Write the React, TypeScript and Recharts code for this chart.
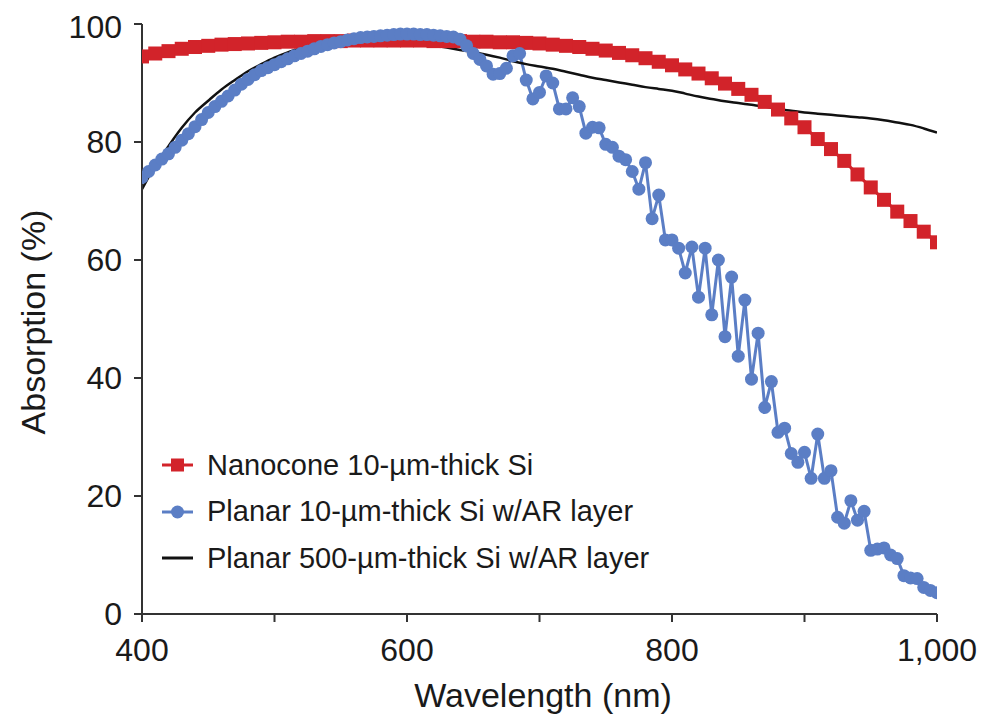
import { FC } from 'react'
import { Label, Legend, Line, LineChart, XAxis, YAxis } from 'recharts'

const FONT = '"Liberation Sans", Arial, Helvetica, sans-serif'
const RED = '#d2232a'
const BLUE = '#5b7ec5'
const BLACK = '#111111'
const AXIS = '#333333'

// wavelength grid of the nanocone and 500-um curves (nm)
const nm10 = [
    400, 410, 420, 430, 440, 450, 460, 470, 480, 490,
    500, 510, 520, 530, 540, 550, 560, 570, 580, 590,
    600, 610, 620, 630, 640, 650, 660, 670, 680, 690,
    700, 710, 720, 730, 740, 750, 760, 770, 780, 790,
    800, 810, 820, 830, 840, 850, 860, 870, 880, 890,
    900, 910, 920, 930, 940, 950, 960, 970, 980, 990,
    1000,
]

// wavelength grid of the planar 10-um curve (nm)
const nm5 = [
    400, 405, 410, 415, 420, 425, 430, 435, 440, 445,
    450, 455, 460, 465, 470, 475, 480, 485, 490, 495,
    500, 505, 510, 515, 520, 525, 530, 535, 540, 545,
    550, 555, 560, 565, 570, 575, 580, 585, 590, 595,
    600, 605, 610, 615, 620, 625, 630, 635, 640, 645,
    650, 655, 660, 665, 670, 675, 680, 685, 690, 695,
    700, 705, 710, 715, 720, 725, 730, 735, 740, 745,
    750, 755, 760, 765, 770, 775, 780, 785, 790, 795,
    800, 805, 810, 815, 820, 825, 830, 835, 840, 845,
    850, 855, 860, 865, 870, 875, 880, 885, 890, 895,
    900, 905, 910, 915, 920, 925, 930, 935, 940, 945,
    950, 955, 960, 965, 970, 975, 980, 985, 990, 995,
    1000,
]

const nanocone = [
    94.5, 95.0, 95.4, 95.8, 96.1, 96.3, 96.5, 96.6, 96.7, 96.8,
    96.9, 97.0, 97.0, 97.1, 97.1, 97.1, 97.2, 97.2, 97.2, 97.2,
    97.2, 97.2, 97.1, 97.1, 97.1, 97.0, 97.0, 96.9, 96.9, 96.8,
    96.7, 96.5, 96.3, 96.1, 95.8, 95.5, 95.1, 94.7, 94.2, 93.6,
    93.0, 92.3, 91.6, 90.8, 89.9, 89.0, 88.0, 86.8, 85.5, 84.0,
    82.5, 80.5, 78.8, 76.8, 74.5, 72.3, 70.2, 68.2, 66.6, 64.8,
    63.0,
]

const planar500 = [
    72.0, 76.0, 79.3, 82.4, 85.0, 87.0, 88.9, 90.5, 92.0, 93.2,
    94.3, 95.2, 95.9, 96.5, 96.9, 97.2, 97.4, 97.5, 97.4, 97.3,
    97.1, 96.8, 96.4, 96.0, 95.6, 95.2, 94.8, 94.3, 93.7, 93.2,
    92.8, 92.4, 91.9, 91.4, 90.9, 90.5, 90.1, 89.7, 89.3, 89.0,
    88.7, 88.2, 87.7, 87.3, 86.9, 86.6, 86.3, 86.0, 85.6, 85.3,
    85.0, 84.8, 84.6, 84.4, 84.2, 84.0, 83.7, 83.3, 82.9, 82.3,
    81.6,
]

const planar10 = [
    74.0, 75.0, 76.1, 77.1, 78.0, 79.1, 80.3, 81.4, 82.6, 83.8,
    85.0, 86.0, 86.9, 87.8, 88.8, 89.8, 90.6, 91.4, 92.1, 92.6,
    93.1, 93.6, 94.1, 94.6, 95.0, 95.4, 95.8, 96.2, 96.5, 96.8,
    97.0, 97.3, 97.5, 97.7, 97.8, 97.9, 98.0, 98.1, 98.2, 98.3,
    98.3, 98.3, 98.2, 98.2, 98.1, 98.0, 97.9, 97.8, 97.4, 96.3,
    95.0, 94.0, 92.9, 91.5, 91.6, 92.5, 94.6, 95.0, 90.5, 87.3,
    88.4, 91.2, 90.0, 85.6, 85.6, 87.5, 86.0, 81.5, 82.5, 82.4,
    79.6, 79.1, 77.6, 77.0, 75.0, 72.0, 76.5, 67.0, 71.0, 63.4,
    63.4, 62.0, 57.8, 62.2, 53.7, 62.0, 50.7, 60.0, 47.0, 57.1,
    43.7, 53.2, 39.8, 47.6, 35.0, 39.4, 30.8, 31.5, 27.2, 25.7,
    27.4, 23.0, 30.5, 23.0, 24.3, 16.4, 15.4, 19.2, 15.9, 17.4,
    10.8, 11.0, 11.2, 10.0, 9.4, 6.5, 6.1, 6.0, 4.5, 4.0,
    3.6,
]

const xTicks = [400, 500, 600, 700, 800, 900, 1000]
const xTickLabels: Record<number, string> = { 400: '400', 600: '600', 800: '800', 1000: '1,000' }
const yTicks = [0, 20, 40, 60, 80, 100]

const NAME_RED = 'Nanocone 10-\u00b5m-thick Si'
const NAME_BLUE = 'Planar 10-\u00b5m-thick Si w/AR layer'
const NAME_BLACK = 'Planar 500-\u00b5m-thick Si w/AR layer'

const redData = nm10.map((x, i) => ({ x, y: nanocone[i] }))
const blackData = nm10.map((x, i) => ({ x, y: planar500[i] }))
const blueData = nm5.map((x, i) => ({ x, y: planar10[i] }))

const SquareDot = (props: any) => {
    const { cx, cy, index } = props
    if (cx == null || cy == null) return null
    return <rect key={`sq-${index}`} x={cx - 7} y={cy - 7} width={14} height={14} fill={RED} />
}

const CircleDot = (props: any) => {
    const { cx, cy, index } = props
    if (cx == null || cy == null) return null
    return <circle key={`ci-${index}`} cx={cx} cy={cy} r={6.5} fill={BLUE} />
}

const LegendIcon = ({ name }: { name: string }) => {
    if (name === NAME_RED) {
        return (
            <svg width={31} height={16}>
                <line x1={0} y1={8} x2={31} y2={8} stroke={RED} strokeWidth={3} />
                <rect x={9} y={1.5} width={13} height={13} fill={RED} />
            </svg>
        )
    }
    if (name === NAME_BLUE) {
        return (
            <svg width={31} height={16}>
                <line x1={0} y1={8} x2={31} y2={8} stroke={BLUE} strokeWidth={3} />
                <circle cx={15.5} cy={8} r={6.5} fill={BLUE} />
            </svg>
        )
    }
    return (
        <svg width={31} height={16}>
            <line x1={0} y1={8} x2={31} y2={8} stroke={BLACK} strokeWidth={3} />
        </svg>
    )
}

const renderLegend = (props: any) => {
    const payload = props.payload || []
    return (
        <div style={{ fontFamily: FONT, fontSize: 29, color: '#1a1a1a' }}>
            {payload.map((entry: any) => (
                <div
                    key={entry.value}
                    style={{ display: 'flex', alignItems: 'center', height: 46.5, whiteSpace: 'nowrap' }}
                >
                    <LegendIcon name={entry.value} />
                    <span style={{ marginLeft: 14 }}>{entry.value}</span>
                </div>
            ))}
        </div>
    )
}

const App: FC = () => {
    return (
        <div>
            <style>{'body { overflow: hidden; }'}</style>
            <LineChart
                width={980}
                height={709}
                margin={{ top: 16, right: 51, bottom: 0, left: 0 }}
                style={{ fontFamily: FONT }}
            >
                <XAxis
                    type="number"
                    dataKey="x"
                    domain={[400, 1000]}
                    ticks={xTicks}
                    allowDataOverflow
                    height={103}
                    tickSize={8}
                    tickMargin={16}
                    tickFormatter={(v: number) => xTickLabels[v] ?? ''}
                    axisLine={{ stroke: AXIS, strokeWidth: 2 }}
                    tickLine={{ stroke: AXIS, strokeWidth: 2 }}
                    tick={{ fill: '#1a1a1a', fontSize: 32, fontFamily: FONT }}
                >
                    <Label
                        content={() => (
                            <text x={535} y={699} textAnchor="middle" fontSize={34} fontFamily={FONT} fill="#1a1a1a">
                                Wavelength (nm)
                            </text>
                        )}
                    />
                </XAxis>
                <YAxis
                    type="number"
                    domain={[0, 100]}
                    ticks={yTicks}
                    width={134}
                    tickSize={8}
                    tickMargin={12}
                    axisLine={{ stroke: AXIS, strokeWidth: 2 }}
                    tickLine={{ stroke: AXIS, strokeWidth: 2 }}
                    tick={{ fill: '#1a1a1a', fontSize: 32, fontFamily: FONT }}
                >
                    <Label
                        content={() => (
                            <text
                                x={37}
                                y={314}
                                transform="rotate(-90, 37, 314)"
                                textAnchor="middle"
                                fontSize={34}
                                fontFamily={FONT}
                                fill="#1a1a1a"
                            >
                                Absorption (%)
                            </text>
                        )}
                    />
                </YAxis>
                <Legend
                    layout="horizontal"
                    align="center"
                    verticalAlign="middle"
                    content={renderLegend}
                    wrapperStyle={{ left: 154, top: 434, width: 560, height: 140 }}
                />
                <Line
                    data={redData}
                    dataKey="y"
                    name={NAME_RED}
                    type="linear"
                    stroke={RED}
                    strokeWidth={3}
                    dot={SquareDot}
                    activeDot={false}
                    isAnimationActive={false}
                />
                <Line
                    data={blueData}
                    dataKey="y"
                    name={NAME_BLUE}
                    type="linear"
                    stroke={BLUE}
                    strokeWidth={3}
                    dot={CircleDot}
                    activeDot={false}
                    isAnimationActive={false}
                />
                <Line
                    data={blackData}
                    dataKey="y"
                    name={NAME_BLACK}
                    type="monotone"
                    stroke={BLACK}
                    strokeWidth={2.5}
                    dot={false}
                    activeDot={false}
                    isAnimationActive={false}
                />
            </LineChart>
        </div>
    )
}

export default App
